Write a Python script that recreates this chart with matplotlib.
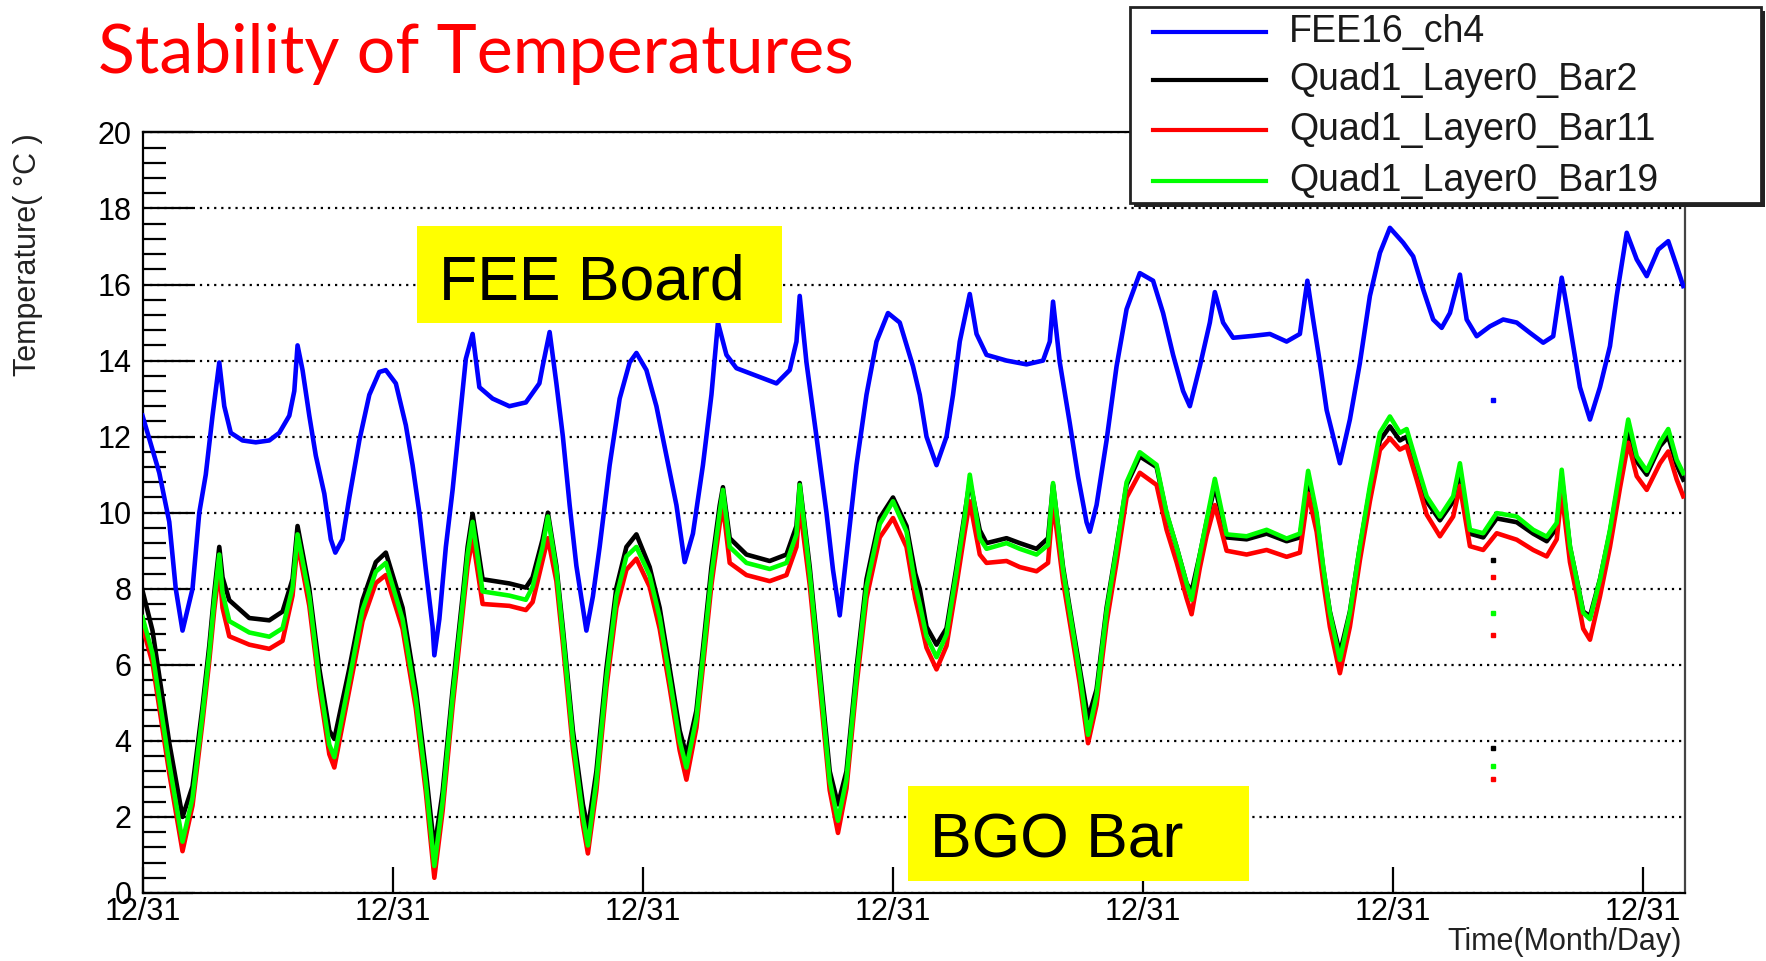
import matplotlib
matplotlib.use("Agg")
import matplotlib.pyplot as plt
from matplotlib.patches import Rectangle
from matplotlib.lines import Line2D
from matplotlib.ticker import MultipleLocator, AutoMinorLocator

W, H, DPI = 1766, 961, 100

# FEE board sensor, time in days from the first sample
fee_t = [0.000, 0.067, 0.107, 0.133, 0.160, 0.200, 0.227, 0.253, 0.280, 0.307,
         0.327, 0.353, 0.400, 0.453, 0.507, 0.547, 0.587, 0.607, 0.620, 0.640,
         0.667, 0.693, 0.727, 0.753, 0.771, 0.800, 0.827, 0.867, 0.907, 0.947,
         0.973, 1.013, 1.053, 1.080, 1.107, 1.133, 1.160, 1.167, 1.187, 1.213,
         1.240, 1.267, 1.293, 1.320, 1.347, 1.400, 1.467, 1.533, 1.587, 1.600,
         1.628, 1.655, 1.681, 1.708, 1.735, 1.775, 1.801, 1.828, 1.868, 1.908,
         1.948, 1.975, 2.015, 2.055, 2.095, 2.135, 2.168, 2.201, 2.241, 2.275,
         2.301, 2.335, 2.375, 2.455, 2.535, 2.588, 2.615, 2.628, 2.655, 2.695,
         2.735, 2.761, 2.788, 2.815, 2.855, 2.895, 2.935, 2.981, 3.028, 3.081,
         3.108, 3.135, 3.175, 3.215, 3.241, 3.268, 3.308, 3.335, 3.375, 3.455,
         3.535, 3.601, 3.628, 3.641, 3.668, 3.708, 3.741, 3.775, 3.788, 3.815,
         3.855, 3.895, 3.935, 3.988, 4.041, 4.081, 4.121, 4.161, 4.188, 4.228,
         4.268, 4.288, 4.321, 4.361, 4.441, 4.508, 4.575, 4.628, 4.658, 4.681,
         4.708, 4.735, 4.788, 4.828, 4.868, 4.908, 4.948, 4.988, 5.041, 5.081,
         5.121, 5.161, 5.195, 5.228, 5.268, 5.295, 5.335, 5.388, 5.441, 5.495,
         5.548, 5.601, 5.641, 5.675, 5.695, 5.721, 5.748, 5.788, 5.828, 5.868,
         5.895, 5.935, 5.975, 6.015, 6.061, 6.101, 6.135, 6.161]
fee_temp = [12.55, 11.05, 9.76, 8.00, 6.90, 8.00, 10.00, 11.00, 12.55, 13.95,
            12.80, 12.10, 11.90, 11.85, 11.90, 12.10, 12.55, 13.20, 14.40, 13.75,
            12.55, 11.50, 10.50, 9.30, 8.95, 9.30, 10.40, 11.90, 13.10, 13.70,
            13.75, 13.40, 12.30, 11.25, 10.00, 8.50, 7.00, 6.25, 7.20, 9.10,
            10.60, 12.35, 14.05, 14.70, 13.30, 13.00, 12.80, 12.90, 13.40, 13.85,
            14.75, 13.40, 12.00, 10.20, 8.60, 6.90, 7.80, 9.10, 11.25, 13.00,
            13.95, 14.20, 13.75, 12.80, 11.50, 10.20, 8.70, 9.45, 11.25, 13.10,
            15.00, 14.15, 13.80, 13.60, 13.40, 13.75, 14.50, 15.70, 13.95, 12.00,
            10.00, 8.50, 7.30, 8.90, 11.25, 13.10, 14.50, 15.25, 15.00, 13.85,
            13.10, 12.00, 11.25, 12.00, 13.10, 14.50, 15.75, 14.70, 14.15, 14.00,
            13.90, 14.00, 14.50, 15.55, 13.95, 12.35, 10.95, 9.75, 9.50, 10.20,
            11.90, 13.85, 15.35, 16.30, 16.10, 15.25, 14.15, 13.20, 12.80, 13.85,
            15.00, 15.80, 15.00, 14.60, 14.65, 14.70, 14.50, 14.70, 16.10, 15.08,
            13.94, 12.70, 11.30, 12.45, 13.94, 15.70, 16.83, 17.49, 17.10, 16.74,
            15.87, 15.08, 14.86, 15.25, 16.26, 15.08, 14.64, 14.90, 15.08, 15.00,
            14.73, 14.47, 14.64, 16.18, 15.43, 14.38, 13.30, 12.45, 13.30, 14.38,
            15.70, 17.36, 16.66, 16.22, 16.92, 17.14, 16.48, 15.96]

# BGO bar sensors share one time base
bgo_t = [0.000, 0.040, 0.107, 0.160, 0.200, 0.240, 0.267, 0.287, 0.307, 0.320,
         0.347, 0.427, 0.507, 0.560, 0.600, 0.620, 0.667, 0.707, 0.747, 0.767,
         0.827, 0.880, 0.933, 0.973, 1.040, 1.093, 1.133, 1.167, 1.200, 1.240,
         1.280, 1.300, 1.320, 1.360, 1.467, 1.533, 1.560, 1.600, 1.621, 1.655,
         1.681, 1.721, 1.761, 1.781, 1.815, 1.855, 1.895, 1.935, 1.975, 2.028,
         2.068, 2.108, 2.148, 2.175, 2.215, 2.241, 2.275, 2.308, 2.321, 2.348,
         2.415, 2.508, 2.575, 2.615, 2.628, 2.668, 2.708, 2.748, 2.781, 2.815,
         2.855, 2.895, 2.948, 3.001, 3.055, 3.090, 3.108, 3.135, 3.175, 3.215,
         3.255, 3.288, 3.308, 3.348, 3.375, 3.455, 3.508, 3.575, 3.621, 3.641,
         3.681, 3.721, 3.748, 3.781, 3.815, 3.855, 3.895, 3.935, 3.988, 4.055,
         4.095, 4.135, 4.175, 4.195, 4.228, 4.255, 4.288, 4.335, 4.415, 4.495,
         4.575, 4.628, 4.661, 4.695, 4.721, 4.748, 4.788, 4.828, 4.868, 4.908,
         4.948, 4.988, 5.028, 5.055, 5.095, 5.135, 5.188, 5.241, 5.268, 5.308,
         5.361, 5.415, 5.495, 5.561, 5.615, 5.655, 5.675, 5.708, 5.735, 5.761,
         5.788, 5.828, 5.868, 5.908, 5.941, 5.975, 6.015, 6.068, 6.101, 6.135,
         6.161]
bar2_temp = [7.95, 6.90, 3.95, 2.00, 2.80, 4.90, 6.50, 7.90, 9.10, 8.30,
             7.70, 7.23, 7.17, 7.40, 8.25, 9.65, 8.00, 5.90, 4.27, 4.05,
             5.90, 7.70, 8.70, 8.95, 7.50, 5.35, 3.20, 1.15, 2.65, 5.35,
             7.80, 9.10, 9.97, 8.25, 8.14, 8.03, 8.30, 9.30, 10.00, 8.60,
             6.96, 4.27, 2.33, 1.68, 3.20, 5.90, 8.03, 9.10, 9.43, 8.57,
             7.50, 5.90, 4.27, 3.62, 4.80, 6.42, 8.57, 10.19, 10.67, 9.33,
             8.90, 8.73, 8.90, 9.65, 10.78, 8.57, 5.90, 3.20, 2.33, 3.20,
             5.90, 8.25, 9.86, 10.40, 9.65, 8.40, 8.00, 7.00, 6.53, 6.96,
             8.57, 9.97, 10.83, 9.54, 9.20, 9.33, 9.20, 9.05, 9.33, 10.73,
             8.57, 6.96, 5.90, 4.59, 5.35, 7.50, 9.10, 10.73, 11.48, 11.20,
             9.97, 9.10, 8.14, 7.93, 8.90, 9.76, 10.70, 9.35, 9.30, 9.45,
             9.25, 9.35, 10.90, 9.90, 8.55, 7.40, 6.30, 7.40, 9.10, 10.60,
             11.90, 12.27, 11.90, 12.00, 11.10, 10.30, 9.80, 10.30, 11.10, 9.45,
             9.35, 9.85, 9.75, 9.45, 9.25, 9.60, 10.95, 9.10, 8.25, 7.40,
             7.28, 8.25, 9.50, 11.00, 12.10, 11.35, 11.00, 11.75, 12.00, 11.25,
             10.87]
bar19_temp = [7.25, 6.30, 3.40, 1.35, 2.50, 4.70, 6.30, 7.70, 8.90, 7.90,
              7.15, 6.85, 6.74, 6.96, 8.03, 9.43, 7.80, 5.60, 3.90, 3.57,
              5.60, 7.45, 8.45, 8.68, 7.20, 5.10, 2.90, 0.71, 2.40, 5.15,
              7.60, 8.90, 9.76, 7.93, 7.82, 7.71, 8.05, 9.10, 9.90, 8.50,
              6.80, 4.05, 2.00, 1.25, 2.95, 5.65, 7.80, 8.85, 9.10, 8.35,
              7.25, 5.65, 4.00, 3.30, 4.60, 6.20, 8.35, 10.00, 10.60, 9.10,
              8.68, 8.52, 8.68, 9.43, 10.73, 8.40, 5.70, 2.95, 1.90, 3.00,
              5.70, 8.05, 9.70, 10.30, 9.50, 8.10, 7.60, 6.75, 6.20, 6.80,
              8.45, 9.90, 11.00, 9.33, 9.05, 9.20, 9.05, 8.90, 9.15, 10.78,
              8.50, 6.85, 5.75, 4.16, 5.20, 7.40, 9.05, 10.80, 11.59, 11.26,
              10.00, 9.10, 8.14, 7.71, 8.90, 9.80, 10.89, 9.43, 9.38, 9.55,
              9.32, 9.45, 11.10, 9.99, 8.60, 7.37, 6.13, 7.37, 9.12, 10.70,
              12.10, 12.53, 12.10, 12.20, 11.30, 10.43, 9.90, 10.43, 11.30, 9.55,
              9.46, 9.99, 9.90, 9.55, 9.37, 9.73, 11.13, 9.12, 8.24, 7.37,
              7.20, 8.24, 9.55, 11.13, 12.45, 11.48, 11.10, 11.85, 12.20, 11.39,
              11.04]
bar11_temp = [7.00, 6.05, 3.15, 1.10, 2.30, 4.50, 6.10, 7.45, 8.55, 7.50,
              6.75, 6.53, 6.42, 6.63, 7.82, 9.20, 7.55, 5.40, 3.65, 3.30,
              5.35, 7.15, 8.15, 8.36, 6.95, 4.85, 2.65, 0.40, 2.15, 4.90,
              7.35, 8.60, 9.33, 7.60, 7.55, 7.44, 7.65, 8.75, 9.33, 8.20,
              6.55, 3.80, 1.80, 1.04, 2.70, 5.40, 7.50, 8.50, 8.79, 8.05,
              6.95, 5.40, 3.75, 2.98, 4.35, 5.95, 8.10, 9.70, 10.20, 8.68,
              8.36, 8.20, 8.36, 9.10, 10.19, 8.10, 5.45, 2.70, 1.58, 2.75,
              5.45, 7.75, 9.35, 9.86, 9.10, 7.75, 7.25, 6.45, 5.88, 6.50,
              8.10, 9.50, 10.30, 8.90, 8.68, 8.73, 8.57, 8.46, 8.68, 10.30,
              8.20, 6.60, 5.50, 3.94, 4.95, 7.10, 8.70, 10.40, 11.05, 10.73,
              9.55, 8.70, 7.75, 7.33, 8.55, 9.40, 10.20, 9.00, 8.90, 9.02,
              8.84, 8.95, 10.50, 9.50, 8.20, 7.00, 5.78, 7.00, 8.75, 10.30,
              11.65, 11.96, 11.66, 11.75, 10.87, 9.95, 9.38, 9.90, 10.70, 9.12,
              9.02, 9.46, 9.29, 9.02, 8.85, 9.30, 10.52, 8.70, 7.85, 6.95,
              6.66, 7.80, 9.10, 10.65, 11.84, 10.96, 10.60, 11.30, 11.61, 10.87,
              10.43]

# isolated readings that fall off the curves
glitch_t = 5.40
fee_glitch = [12.97]
bar2_glitch = [8.75, 3.80]
bar19_glitch = [7.35, 3.35]
bar11_glitch = [8.32, 6.78, 3.00]

day_ticks = [0, 1, 2, 3, 4, 5, 6]
day_labels = ["12/31"] * 7
t_max = 6.168

names = ["FEE16_ch4", "Quad1_Layer0_Bar2", "Quad1_Layer0_Bar11", "Quad1_Layer0_Bar19"]
colors = ["#0000ff", "#000000", "#ff0000", "#00ff00"]


def fx(px):
    return px / W


def fy(py):
    return 1 - py / H


plt.rcParams["font.family"] = "Liberation Sans"
fig = plt.figure(figsize=(W / DPI, H / DPI), dpi=DPI)
ax = fig.add_axes([fx(142.5), fy(893), (1685 - 142.5) / W, (893 - 132.4) / H])

series = [
    (fee_t, fee_temp, fee_glitch),
    (bgo_t, bar2_temp, bar2_glitch),
    (bgo_t, bar11_temp, bar11_glitch),
    (bgo_t, bar19_temp, bar19_glitch),
]
for (t, temp, glitch), c in zip(series, colors):
    ax.plot(t, temp, color=c, lw=3.3, solid_joinstyle="round", zorder=3)
    ax.plot([glitch_t] * len(glitch), glitch, ls="none", marker="s", ms=3.5,
            mec=c, mfc=c, zorder=3)

ax.set_xlim(0, t_max)
ax.set_ylim(0, 20)
ax.set_xticks(day_ticks)
ax.set_xticklabels(day_labels)
ax.yaxis.set_major_locator(MultipleLocator(2))
ax.yaxis.set_minor_locator(AutoMinorLocator(5))

ax.yaxis.grid(True, which="major", color="black", ls=(0, (1, 2.2)), lw=1.6, zorder=1)
ax.set_axisbelow(True)

ax.tick_params(axis="y", which="major", direction="in", length=36, width=1.6,
               labelsize=22, pad=8, right=False)
ax.tick_params(axis="y", which="minor", direction="in", length=16.5, width=1.6,
               right=False)
ax.tick_params(axis="x", which="major", direction="in", length=19, width=1.6,
               labelsize=22, pad=3, top=False)

for side in ["left", "bottom", "top"]:
    ax.spines[side].set_linewidth(1.6)
ax.spines["right"].set_color("#444444")
ax.spines["right"].set_linewidth(1.6)

fig.text(fx(28), fy(133), "Temperature( \u00b0C )", rotation=90, ha="center",
         va="top", fontsize=22, color="#222222")
fig.text(fx(1682), fy(942), "Time(Month/Day)", ha="right", va="center",
         fontsize=22, color="#222222")

# title
fig.text(fx(98), fy(73), "Stability of Temperatures", color="#ff0000",
         fontsize=49, family="Lato", va="baseline")

# yellow annotation boxes
boxes = [((417, 226, 782, 323), "FEE Board", 439, 300),
         ((908, 786, 1249, 881), "BGO Bar", 930, 858)]
for (x0, y0, x1, y1), text, tx, ty in boxes:
    fig.add_artist(Rectangle((fx(x0), fy(y1)), (x1 - x0) / W, (y1 - y0) / H,
                             transform=fig.transFigure, facecolor="#ffff00",
                             edgecolor="none", zorder=10))
    fig.text(fx(tx), fy(ty), text, fontsize=45, va="baseline", color="black",
             zorder=11)

# legend box with drop shadow
lx0, ly0, lx1, ly1 = 1130, 7, 1761, 203
fig.add_artist(Rectangle((fx(lx0 + 4), fy(ly1 + 4)), (lx1 - lx0) / W, (ly1 - ly0) / H,
                         transform=fig.transFigure, facecolor="#222222",
                         edgecolor="none", zorder=12))
fig.add_artist(Rectangle((fx(lx0), fy(ly1)), (lx1 - lx0) / W, (ly1 - ly0) / H,
                         transform=fig.transFigure, facecolor="white",
                         edgecolor="#222222", lw=2, zorder=13))
for row_y, name, c in zip([32, 80, 130, 181], names, colors):
    fig.add_artist(Line2D([fx(1153), fx(1266)], [fy(row_y), fy(row_y)],
                          transform=fig.transFigure, color=c, lw=3, zorder=14))
    fig.text(fx(1289), fy(row_y), name, fontsize=27, va="center",
             color="#1a1a1a", zorder=14)

fig.savefig("out.png", dpi=DPI)
